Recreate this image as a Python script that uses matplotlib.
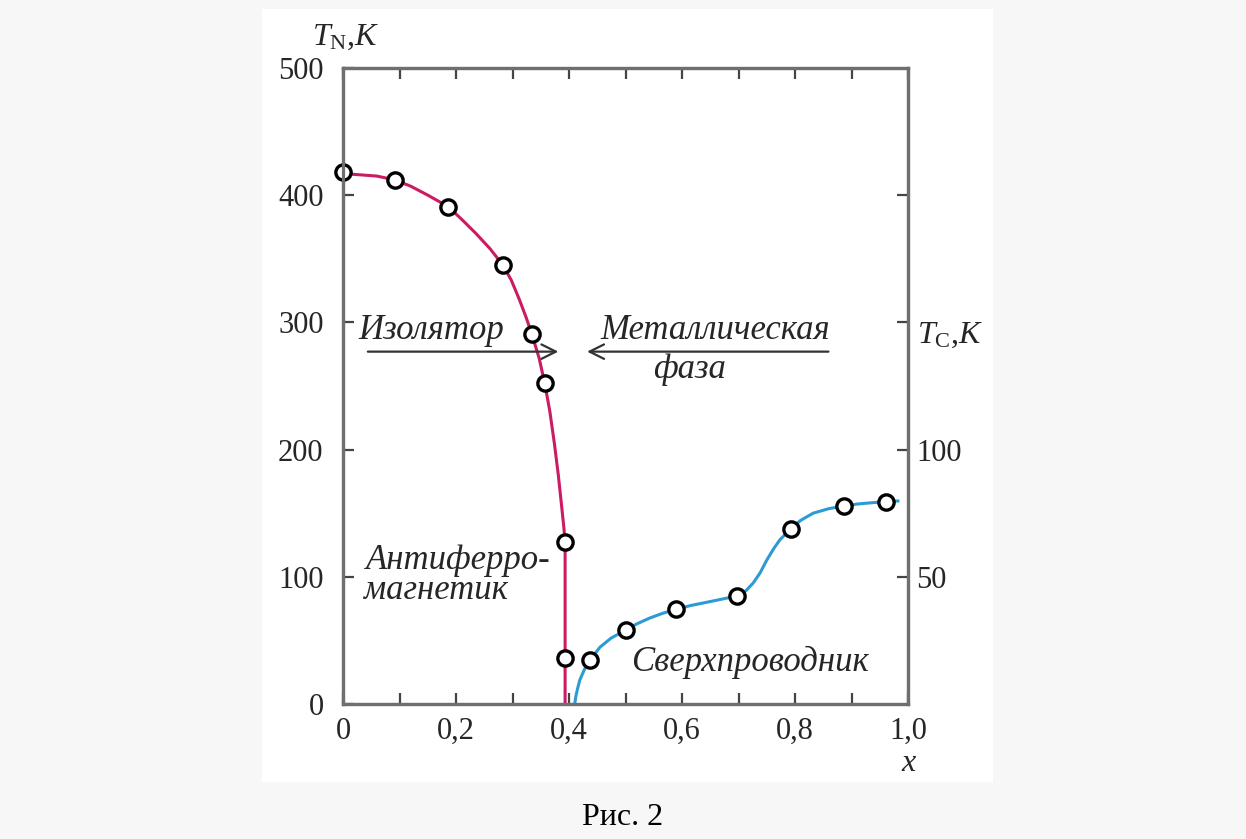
import matplotlib.pyplot as plt
from matplotlib.patches import Rectangle

# Neel temperature (antiferromagnet), left axis
tn_x = [0.0, 0.092, 0.186, 0.283, 0.334, 0.357, 0.393, 0.392]
tn_val = [418, 412, 391, 345, 291, 252, 127, 36]
tn_curve_x = [0.0, 0.03, 0.06, 0.092, 0.12, 0.15, 0.186, 0.21, 0.235, 0.26, 0.283,
              0.298, 0.312, 0.324, 0.334, 0.347, 0.357, 0.366, 0.374, 0.381, 0.387,
              0.391, 0.393, 0.393, 0.393]
tn_curve_val = [417, 416, 415, 412, 407, 400, 391, 381, 370, 358, 345,
                333, 318, 304, 291, 272, 252, 230, 205, 180, 155,
                138, 127, 60, 0]

# superconducting Tc, right axis
tc_x = [0.437, 0.501, 0.589, 0.698, 0.792, 0.886, 0.961]
tc_val = [17.3, 29.1, 37.2, 42.5, 68.8, 77.8, 79.5]
tc_curve_x = [0.41, 0.412, 0.415, 0.419, 0.427, 0.437, 0.455, 0.475, 0.501, 0.52,
              0.543, 0.565, 0.589, 0.615, 0.644, 0.67, 0.698, 0.713, 0.726, 0.738,
              0.750, 0.762, 0.773, 0.792, 0.81, 0.832, 0.86, 0.886, 0.91, 0.935,
              0.961, 0.982]
tc_curve_val = [0, 3, 6, 9.4, 13.5, 17.3, 22.4, 26, 29.1, 31.5,
                33.8, 35.6, 37.2, 38.7, 40.0, 41.2, 42.5, 44.5, 47.6, 51.5,
                56.6, 61, 64.5, 68.8, 72.2, 75, 76.8, 77.8, 78.6, 79.1,
                79.5, 79.8]

x_ticks = [0.0, 0.1, 0.2, 0.3, 0.4, 0.5, 0.6, 0.7, 0.8, 0.9, 1.0]
x_labels = ["0", "", "0,2", "", "0,4", "", "0,6", "", "0,8", "", "1,0"]
tn_ticks = [0, 100, 200, 300, 400, 500]
tc_ticks = [50, 100, 150, 200]
tc_labels = ["50", "100", "", ""]

serif = "Liberation Serif"
plt.rcParams["font.family"] = [serif, "DejaVu Serif"]
plt.rcParams["mathtext.fontset"] = "custom"
plt.rcParams["mathtext.it"] = "Liberation Serif:italic"
plt.rcParams["mathtext.rm"] = "Liberation Serif"

spine_col = "#6f6f6f"
pink = "#cc1a63"
blue = "#2b9bd3"
txt = "#262626"

fig = plt.figure(figsize=(12.46, 8.39), dpi=100, facecolor="#f7f7f7")
fig.patches.append(Rectangle((0.2103, 0.0679), 0.5867, 0.9213, transform=fig.transFigure,
                             facecolor="white", edgecolor="none", zorder=-10))

ax = fig.add_axes([0.2753, 0.1609, 0.4535, 0.7581])
ax.set_facecolor("white")
ax2 = ax.twinx()

ax.plot(tn_curve_x, tn_curve_val, color=pink, lw=2.2, zorder=2, clip_on=False)
ax.plot(tn_x, tn_val, "o", ms=11, mfc="white", mec="black", mew=2.4, zorder=5, clip_on=False)
ax2.plot(tc_curve_x, tc_curve_val, color=blue, lw=2.2, zorder=2)
ax2.plot(tc_x, tc_val, "o", ms=11, mfc="white", mec="black", mew=2.4, zorder=5)

ax.set_xlim(0, 1.0)
ax.set_ylim(0, 500)
ax2.set_ylim(0, 250)

ax.set_xticks(x_ticks)
ax.set_xticklabels(x_labels)
ax.set_yticks(tn_ticks)
ax2.set_yticks(tc_ticks)
ax2.set_yticklabels(tc_labels)

for a in (ax, ax2):
    for s in a.spines.values():
        s.set_color(spine_col)
        s.set_linewidth(2.3)
ax.tick_params(axis="x", direction="in", top=True, length=8, width=1.6, color="#444444",
               labelsize=22, pad=9, labelcolor=txt)
ax.tick_params(axis="y", direction="in", length=8, width=1.6, color="#444444",
               labelsize=22, pad=14, labelcolor=txt)
ax2.tick_params(axis="y", direction="in", length=8, width=1.6, color="#444444",
                labelsize=22, pad=6, labelcolor=txt)

ax.text(-0.055, 524, r"$T_{\mathrm{N}}$,$K$", fontsize=23, color=txt, ha="left", va="center",
        clip_on=False)
ax.text(1.016, 290, r"$T_{\mathrm{C}}$,$K$", fontsize=23, color=txt, ha="left", va="center",
        clip_on=False)
ax.text(1.0, -47, "x", fontsize=23, style="italic", color=txt, ha="center",
        va="center", clip_on=False)

it = dict(fontsize=25, style="italic", color=txt, va="center")
ax.text(0.028, 294, "Изолятор", ha="left", **it)
ax.text(0.456, 294, "Металлическая", ha="left", **it)
ax.text(0.614, 263, "фаза", ha="center", **it)
ax.text(0.040, 113, "Антиферро-", ha="left", **it)
ax.text(0.037, 89, "магнетик", ha="left", **it)
ax.text(0.510, 33, "Сверхпроводник", ha="left", **it)

ax.annotate("", xy=(0.386, 277), xytext=(0.039, 277),
            arrowprops=dict(arrowstyle="->", color="#333333", lw=1.6, mutation_scale=26))
ax.annotate("", xy=(0.427, 277), xytext=(0.864, 277),
            arrowprops=dict(arrowstyle="->", color="#333333", lw=1.6, mutation_scale=26))

fig.text(0.5, 0.026, "Рис. 2", fontsize=23, color="black", ha="center", va="center")

fig.savefig("out.png", dpi=100, facecolor=fig.get_facecolor())
